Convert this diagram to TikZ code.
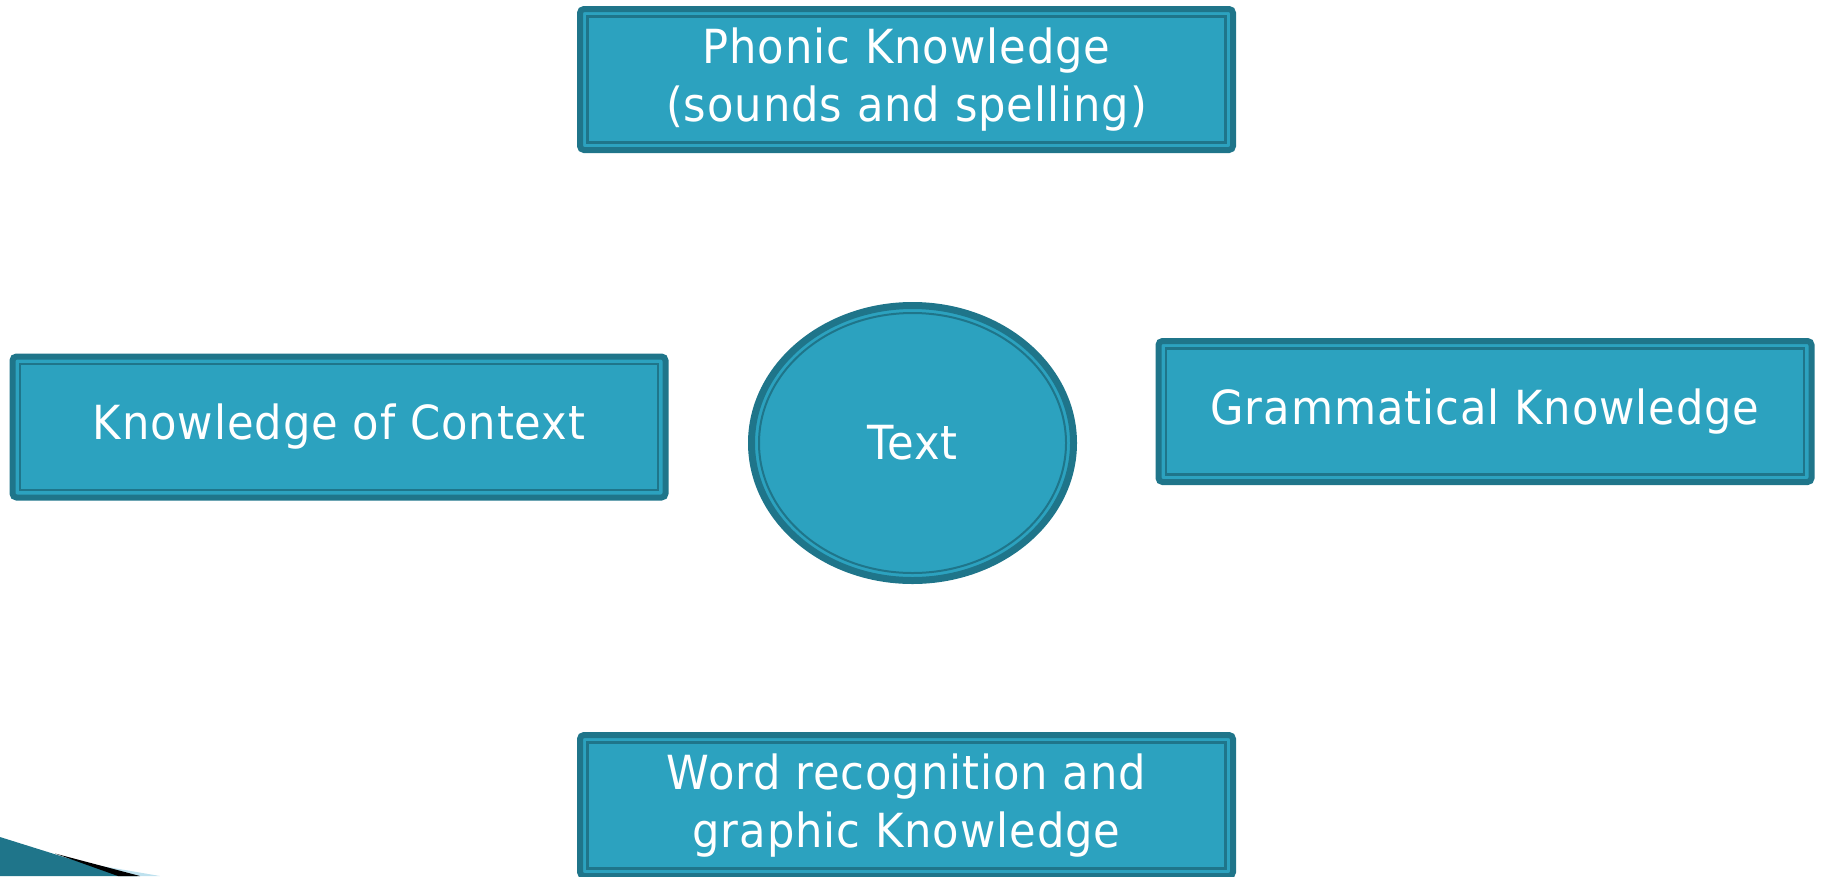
\documentclass[tikz,border=0pt]{standalone}
\usepackage{fontspec}
\setmainfont[FakeStretch=0.92,LetterSpace=2]{DejaVu Sans}
\usetikzlibrary{shapes.geometric}
\definecolor{tealfill}{RGB}{44,162,191}
\definecolor{tealdark}{RGB}{31,117,138}
\definecolor{tealpale}{RGB}{190,225,238}
\begin{document}
\begin{tikzpicture}[x=1pt,y=-1pt,
  box/.style={rectangle, draw=tealdark, fill=tealfill, line width=6pt,
    rounded corners=4pt, minimum width=653pt, minimum height=141pt,
    outer sep=0pt, inner sep=0pt, align=center, text=white,
    font=\fontsize{47}{58}\selectfont},
  oval/.style={ellipse, draw=tealdark, fill=tealfill, line width=7pt,
    minimum width=322pt, minimum height=275pt, outer sep=0pt,
    text=white, font=\fontsize{47}{58}\selectfont},
  innerline/.style={draw=tealdark, line width=2.5pt}]
\useasboundingbox (0,0) rectangle (1822,876);
\begin{scope}
\clip (0,0) rectangle (1822,876);

% four knowledge boxes
\node[box] (phon) at (906.5,79.5) {Phonic Knowledge\\(sounds and spelling)};
\node[box] (ctx)  at (339,427)    {Knowledge of Context};
\node[box] (gram) at (1485,411.5) {Grammatical Knowledge};
\node[box] (word) at (906.5,805.5) {Word recognition and\\graphic Knowledge};
\foreach \n in {phon,ctx,gram,word}{
  \draw[innerline] ([shift={(7.5,7.5)}]\n.north west) rectangle ([shift={(-7.5,-7.5)}]\n.south east);
}

% central oval with its inner rim
\node[oval] (txt) at (912.5,443) {Text};
\draw[tealdark, line width=2pt] (txt.center) ellipse [x radius=153.5, y radius=130];

% corner ornament
\fill[tealpale] (90,864) -- (160,876) -- (120,876) -- cycle;
\fill[tealdark] (0,837) -- (67,858) -- (137,876) -- (0,876) -- cycle;
\fill[black] (55,853.5) -- (140,876) -- (118,876) -- cycle;
\end{scope}
\end{tikzpicture}
\end{document}
